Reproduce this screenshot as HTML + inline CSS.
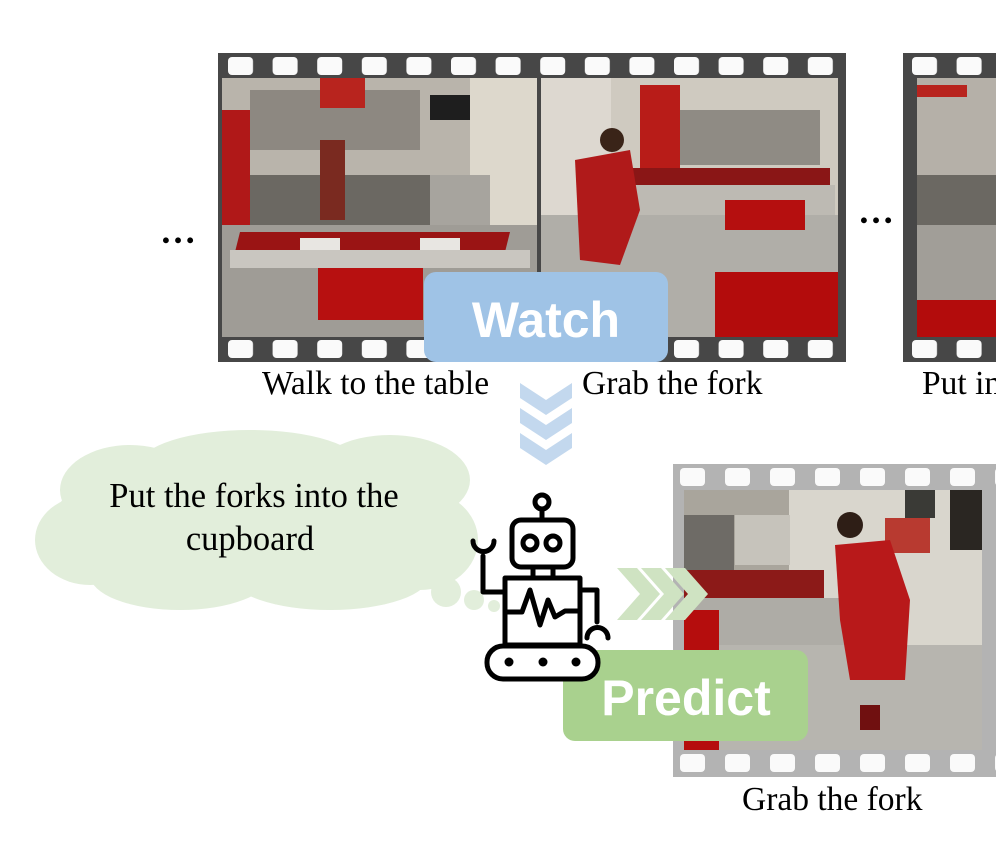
<!DOCTYPE html>
<html><head><meta charset="utf-8"><style>
html,body{margin:0;padding:0;background:#fff;width:996px;height:847px;overflow:hidden}
svg{display:block}
.lbl{font-family:"Liberation Serif",serif;font-size:33.5px;fill:#000}
.big{font-family:"Liberation Sans",sans-serif;font-weight:bold;font-size:50px;fill:#fff}
</style></head><body>
<svg width="996" height="847" viewBox="0 0 996 847" xmlns="http://www.w3.org/2000/svg">
<defs>
<pattern id="hD1" x="228" y="57" width="44.6" height="400" patternUnits="userSpaceOnUse"><rect x="0" y="0" width="25" height="18" rx="4" fill="#fafafa"/></pattern>
<pattern id="hD2" x="228" y="340" width="44.6" height="400" patternUnits="userSpaceOnUse"><rect x="0" y="0" width="25" height="18" rx="4" fill="#fafafa"/></pattern>
<pattern id="hE1" x="912" y="57" width="44.6" height="400" patternUnits="userSpaceOnUse"><rect x="0" y="0" width="25" height="18" rx="4" fill="#fafafa"/></pattern>
<pattern id="hE2" x="912" y="340" width="44.6" height="400" patternUnits="userSpaceOnUse"><rect x="0" y="0" width="25" height="18" rx="4" fill="#fafafa"/></pattern>
<pattern id="hL1" x="680" y="468" width="45" height="400" patternUnits="userSpaceOnUse"><rect x="0" y="0" width="25" height="18" rx="4" fill="#fafafa"/></pattern>
<pattern id="hL2" x="680" y="754" width="45" height="400" patternUnits="userSpaceOnUse"><rect x="0" y="0" width="25" height="18" rx="4" fill="#fafafa"/></pattern>
</defs>

<rect x="218" y="53" width="628" height="309" fill="#474747"/>
<rect x="218" y="57" width="628" height="18" fill="url(#hD1)"/>
<rect x="218" y="340" width="628" height="18" fill="url(#hD2)"/>
<g>
<rect x="222" y="78" width="315" height="259" fill="#b9b4ab"/>
<rect x="250" y="90" width="170" height="60" fill="#8d8881"/>
<rect x="320" y="78" width="45" height="30" fill="#b8241e"/>
<rect x="430" y="95" width="60" height="25" fill="#1e1e1e"/>
<rect x="470" y="78" width="67" height="180" fill="#ddd8cc"/>
<rect x="222" y="110" width="28" height="130" fill="#b01818"/>
<rect x="250" y="175" width="240" height="50" fill="#6b6862"/>
<rect x="430" y="175" width="60" height="50" fill="#a7a49e"/>
<rect x="320" y="140" width="25" height="80" fill="#7a2a20"/>
<rect x="222" y="225" width="315" height="112" fill="#9f9c96"/>
<polygon points="240,232 510,232 505,252 235,252" fill="#9a1414"/>
<rect x="300" y="238" width="40" height="12" fill="#e8e6e2"/>
<rect x="420" y="238" width="40" height="12" fill="#e8e6e2"/>
<rect x="230" y="250" width="300" height="18" fill="#c9c6c0"/>
<rect x="318" y="268" width="105" height="52" fill="#b71010"/>
</g>
<g>
<rect x="541" y="78" width="297" height="259" fill="#cfcac0"/>
<rect x="541" y="78" width="70" height="259" fill="#ddd8d0"/>
<rect x="640" y="85" width="40" height="95" fill="#b81c18"/>
<rect x="680" y="110" width="140" height="55" fill="#8f8b84"/>
<rect x="620" y="168" width="210" height="22" fill="#8a1616"/>
<rect x="600" y="185" width="235" height="30" fill="#bdbab3"/>
<rect x="541" y="215" width="297" height="122" fill="#b0aea8"/>
<rect x="725" y="200" width="80" height="30" fill="#b50f0f"/>
<rect x="715" y="272" width="123" height="65" fill="#b30c0c"/>
<polygon points="575,160 630,150 640,210 620,265 580,260" fill="#b01a1a"/>
<circle cx="612" cy="140" r="12" fill="#3a2418"/>
</g>
<rect x="903" y="53" width="93" height="309" fill="#474747"/>
<rect x="903" y="57" width="93" height="18" fill="url(#hE1)"/>
<rect x="903" y="340" width="93" height="18" fill="url(#hE2)"/>
<rect x="917" y="78" width="79" height="259" fill="#b5b0a8"/>
<rect x="917" y="85" width="50" height="12" fill="#b8241e"/>
<rect x="917" y="175" width="79" height="50" fill="#6b6862"/>
<rect x="917" y="225" width="79" height="112" fill="#a19e98"/>
<rect x="917" y="300" width="79" height="37" fill="#b30c0c"/>

<text class="lbl" x="160" y="243" style="font-size:36px;font-weight:bold">…</text>
<text class="lbl" x="858" y="223" style="font-size:36px;font-weight:bold">…</text>

<text class="lbl" x="262" y="394">Walk to the table</text>
<text class="lbl" x="582" y="394">Grab the fork</text>
<text class="lbl" x="922" y="394">Put in</text>

<rect x="424" y="272" width="244" height="90" rx="12" fill="#9fc3e6"/>
<text class="big" x="546" y="337" text-anchor="middle">Watch</text>

<g fill="#c3d8ee">
<polygon points="520,383 546,400 572,383 572,398 546,415 520,398"/>
<polygon points="520,408 546,425 572,408 572,423 546,440 520,423"/>
<polygon points="520,433 546,450 572,433 572,448 546,465 520,448"/>
</g>

<g fill="#e2eedb">
<ellipse cx="255" cy="520" rx="200" ry="75"/>
<ellipse cx="130" cy="490" rx="70" ry="45"/>
<ellipse cx="250" cy="465" rx="110" ry="35"/>
<ellipse cx="390" cy="480" rx="80" ry="45"/>
<ellipse cx="420" cy="540" rx="58" ry="50"/>
<ellipse cx="90" cy="540" rx="55" ry="45"/>
<ellipse cx="180" cy="575" rx="90" ry="35"/>
<ellipse cx="330" cy="575" rx="100" ry="35"/>
<circle cx="446" cy="592" r="15"/>
<circle cx="474" cy="600" r="10"/>
<circle cx="494" cy="606" r="6"/>
</g>
<text class="lbl" x="254" y="507" text-anchor="middle" style="font-size:34.5px">Put the forks into the</text>
<text class="lbl" x="250" y="550" text-anchor="middle" style="font-size:34.5px">cupboard</text>

<rect x="673" y="464" width="323" height="313" fill="#b3b3b3"/>
<rect x="673" y="468" width="323" height="18" fill="url(#hL1)"/>
<rect x="673" y="754" width="323" height="18" fill="url(#hL2)"/>
<g>
<rect x="684" y="490" width="298" height="260" fill="#d9d6cd"/>
<rect x="684" y="490" width="105" height="90" fill="#a9a59c"/>
<rect x="684" y="515" width="50" height="60" fill="#6e6b66"/>
<rect x="735" y="515" width="55" height="50" fill="#c6c3bb"/>
<rect x="684" y="570" width="140" height="30" fill="#8c1a18"/>
<rect x="684" y="598" width="170" height="50" fill="#aeaca6"/>
<rect x="684" y="645" width="298" height="105" fill="#b7b5af"/>
<rect x="684" y="610" width="35" height="140" fill="#b50d0d"/>
<rect x="905" y="490" width="30" height="28" fill="#3a3a36"/>
<rect x="950" y="490" width="32" height="60" fill="#2a2622"/>
<rect x="885" y="518" width="45" height="35" fill="#b83a30"/>
<polygon points="835,545 890,540 910,600 905,680 850,680 840,620" fill="#b8191a"/>
<circle cx="850" cy="525" r="13" fill="#2e1e16"/>
<rect x="860" y="705" width="20" height="25" fill="#701010"/>
</g>

<g fill="#cfe3c2">
<polygon points="617,568 637,568 660,594 637,620 617,620 640,594"/>
<polygon points="641,568 661,568 684,594 661,620 641,620 664,594"/>
<polygon points="665,568 685,568 708,594 685,620 665,620 688,594"/>
</g>

<rect x="563" y="650" width="245" height="91" rx="12" fill="#a9d18e"/>
<text class="big" x="686" y="715" text-anchor="middle">Predict</text>

<text class="lbl" x="742" y="810">Grab the fork</text>

<g fill="none" stroke="#000" stroke-width="5" stroke-linejoin="round" stroke-linecap="round">
<circle cx="542" cy="502" r="7"/>
<line x1="542" y1="509" x2="542" y2="520"/>
<rect x="512" y="520" width="61" height="47" rx="9" fill="#fff"/>
<circle cx="530" cy="543" r="7"/>
<circle cx="553" cy="543" r="7"/>
<rect x="533" y="567" width="20" height="11" fill="#fff"/>
<rect x="505" y="578" width="75" height="67" fill="#fff"/>
<polyline points="505,612 522,612 530,590 540,625 548,600 555,617 565,611 580,611"/>
<polyline points="505,592 483,592 483,556"/>
<path d="M473,541 A10.5,10.5 0 0 0 494,541"/>
<polyline points="580,590 597,590 597,622"/>
<path d="M587,638 A10.5,10.5 0 0 1 608,638"/>
<rect x="487" y="646" width="111" height="33" rx="16" fill="#fff"/>
</g>
<g fill="#000"><circle cx="509" cy="662" r="4.5"/><circle cx="543" cy="662" r="4.5"/><circle cx="576" cy="662" r="4.5"/></g>
</svg>
</body></html>
